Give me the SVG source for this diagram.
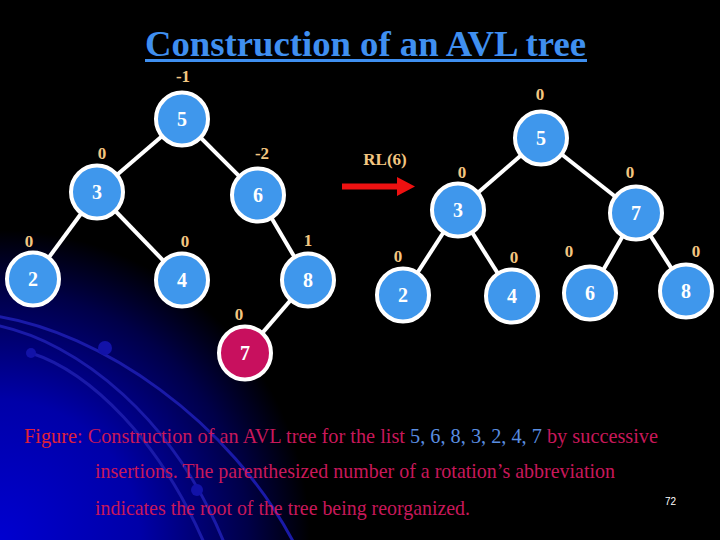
<svg xmlns="http://www.w3.org/2000/svg" width="720" height="540" viewBox="0 0 720 540">
<defs>
<radialGradient id="bg" gradientUnits="userSpaceOnUse" cx="0" cy="540" r="310">
<stop offset="0" stop-color="#0000d0"/>
<stop offset="0.45" stop-color="#0000a8"/>
<stop offset="0.8" stop-color="#000048"/>
<stop offset="1" stop-color="#000000"/>
</radialGradient>
<style>
.node{fill:#3f97ec;stroke:#ffffff;stroke-width:4}
.hot{fill:#c8105e;stroke:#ffffff;stroke-width:4}
.nt{font-family:"Liberation Serif",serif;font-weight:bold;font-size:20px;fill:#ffffff;text-anchor:middle}
.lb{font-family:"Liberation Serif",serif;font-weight:bold;font-size:17px;fill:#f3c680;text-anchor:middle}
.edge{stroke:#ffffff;stroke-width:4;fill:none}
.arc{stroke:#1a1aa8;stroke-width:3;fill:none}
.cap{font-family:"Liberation Serif",serif;font-size:21px;fill:#c8185a}
</style>
</defs>
<rect width="720" height="540" fill="#000000"/>
<rect width="720" height="540" fill="url(#bg)"/>
<g id="decoration">
<path class="arc" d="M -5 316 C 100 332, 230 420, 295 545"/>
<path class="arc" d="M -5 325 C 80 342, 175 420, 225 545"/>
<path class="arc" d="M 31 353 C 90 372, 160 440, 205 545"/>
<circle cx="105" cy="348" r="7" fill="#1212a8"/>
<circle cx="31" cy="353" r="5" fill="#1212a8"/>
<circle cx="197" cy="490" r="6" fill="#1212a8"/>
</g>
<g id="title">
<text x="145" y="56" font-family="Liberation Serif,serif" font-weight="bold" font-size="36" fill="#3f8ff0" textLength="441" lengthAdjust="spacingAndGlyphs">Construction of an AVL tree</text>
<rect x="145" y="59" width="442" height="3" fill="#3f8ff0"/>
</g>
<g id="connectors">
<line class="edge" x1="182" y1="119" x2="97" y2="192"/>
<line class="edge" x1="182" y1="119" x2="258" y2="195"/>
<line class="edge" x1="97" y1="192" x2="33" y2="279"/>
<line class="edge" x1="97" y1="192" x2="182" y2="280"/>
<line class="edge" x1="258" y1="195" x2="308" y2="280"/>
<line class="edge" x1="308" y1="280" x2="245" y2="353"/>
<line class="edge" x1="541" y1="138" x2="458" y2="210"/>
<line class="edge" x1="541" y1="138" x2="636" y2="213"/>
<line class="edge" x1="458" y1="210" x2="403" y2="295"/>
<line class="edge" x1="458" y1="210" x2="512" y2="296"/>
<line class="edge" x1="636" y1="213" x2="590" y2="293"/>
<line class="edge" x1="636" y1="213" x2="686" y2="291"/>
</g>
<g id="L5"><ellipse class="node" cx="182" cy="119" rx="26" ry="26.5"/><text class="nt" x="182" y="126">5</text><text class="lb" x="183" y="82">-1</text></g>
<g id="L3"><ellipse class="node" cx="97" cy="192" rx="26" ry="26.5"/><text class="nt" x="97" y="199">3</text><text class="lb" x="102" y="159">0</text></g>
<g id="L6"><ellipse class="node" cx="258" cy="195" rx="26" ry="26.5"/><text class="nt" x="258" y="202">6</text><text class="lb" x="262" y="159">-2</text></g>
<g id="L2"><ellipse class="node" cx="33" cy="279" rx="26" ry="26.5"/><text class="nt" x="33" y="286">2</text><text class="lb" x="29" y="247">0</text></g>
<g id="L4"><ellipse class="node" cx="182" cy="280" rx="26" ry="26.5"/><text class="nt" x="182" y="287">4</text><text class="lb" x="185" y="247">0</text></g>
<g id="L8"><ellipse class="node" cx="308" cy="280" rx="26" ry="26.5"/><text class="nt" x="308" y="287">8</text><text class="lb" x="308" y="246">1</text></g>
<g id="L7"><ellipse class="hot" cx="245" cy="353" rx="26" ry="26.5"/><text class="nt" x="245" y="360">7</text><text class="lb" x="239" y="320">0</text></g>
<g id="rotation">
<text class="lb" x="385" y="165">RL(6)</text>
<path d="M 342 183.5 L 397 183.5 L 397 177 L 415 186.5 L 397 196 L 397 189.5 L 342 189.5 Z" fill="#ee1111"/>
</g>
<g id="R5"><ellipse class="node" cx="541" cy="138" rx="26" ry="26.5"/><text class="nt" x="541" y="145">5</text><text class="lb" x="540" y="100">0</text></g>
<g id="R3"><ellipse class="node" cx="458" cy="210" rx="26" ry="26.5"/><text class="nt" x="458" y="217">3</text><text class="lb" x="462" y="178">0</text></g>
<g id="R7"><ellipse class="node" cx="636" cy="213" rx="26" ry="26.5"/><text class="nt" x="636" y="220">7</text><text class="lb" x="630" y="178">0</text></g>
<g id="R2"><ellipse class="node" cx="403" cy="295" rx="26" ry="26.5"/><text class="nt" x="403" y="302">2</text><text class="lb" x="398" y="262">0</text></g>
<g id="R4"><ellipse class="node" cx="512" cy="296" rx="26" ry="26.5"/><text class="nt" x="512" y="303">4</text><text class="lb" x="514" y="263">0</text></g>
<g id="R6"><ellipse class="node" cx="590" cy="293" rx="26" ry="26.5"/><text class="nt" x="590" y="300">6</text><text class="lb" x="569" y="257">0</text></g>
<g id="R8"><ellipse class="node" cx="686" cy="291" rx="26" ry="26.5"/><text class="nt" x="686" y="298">8</text><text class="lb" x="696" y="257">0</text></g>
<g id="caption">
<text class="cap" x="24" y="443" textLength="634" lengthAdjust="spacingAndGlyphs"><tspan fill="#e0203a">Figure</tspan>: Construction of an AVL tree for the list <tspan fill="#5a8ee0">5, 6, 8, 3, 2, 4, 7</tspan>  by successive</text>
<text class="cap" x="95" y="478" textLength="520" lengthAdjust="spacingAndGlyphs">insertions. The parenthesized number of a rotation’s abbreviation</text>
<text class="cap" x="95" y="515" textLength="375" lengthAdjust="spacingAndGlyphs">indicates the root of the tree being reorganized.</text>
<text x="665" y="505" font-family="Liberation Sans,sans-serif" font-size="10" fill="#ffffff">72</text>
</g>
</svg>
